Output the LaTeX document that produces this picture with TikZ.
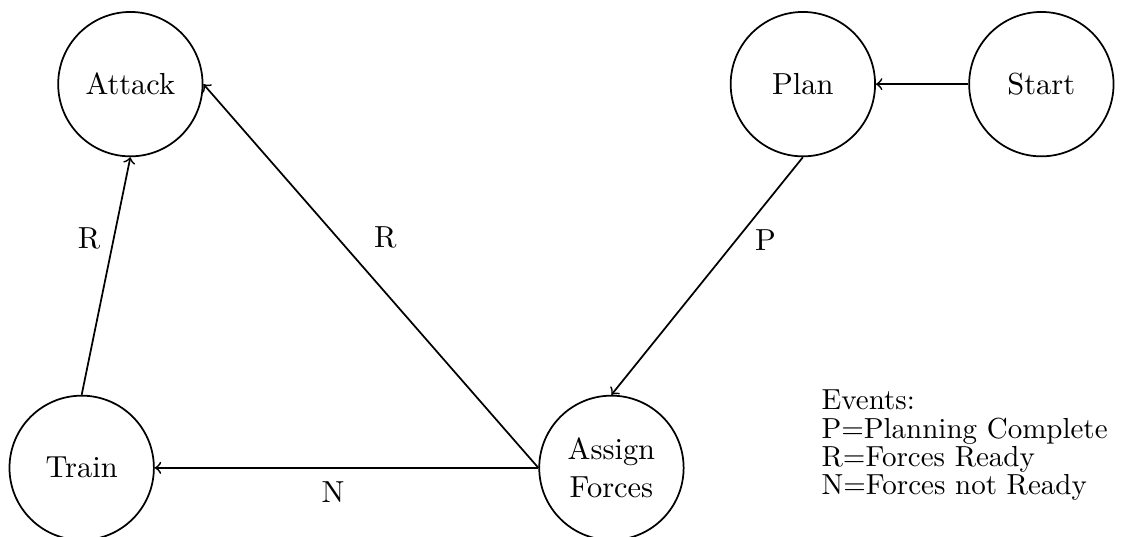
\documentclass[tikz,border=0pt]{standalone}
\usetikzlibrary{positioning}
\begin{document}
\begin{tikzpicture}[every node/.style={font=\fontsize{10.5pt}{13pt}\selectfont}, etat/.style={draw, circle, semithick, minimum size=1.75cm, align=center, inner sep=0pt}, fleche/.style={->, semithick}]
        \useasboundingbox (0,0) rectangle (13.67,6.50);

        % Etats
        \node[etat] (attack) at (1.58, 5.48) {Attack};
        \node[etat] (plan) at (9.73, 5.48) {Plan};
        \node[etat] (start) at (12.62, 5.48) {Start};
        \node[etat] (train) at (0.99, 0.83) {Train};
        \node[etat] (assign) at (7.41, 0.83) {Assign\\Forces};

        % Transitions
        \draw[fleche] (start.west) -- (plan.east);
        \draw[fleche] (plan.south) -- (assign.north) node[pos=0.35, right=3pt] {P};
        \draw[fleche] (assign.west) -- (attack.east) node[pos=0.6, right=9pt] {R};
        \draw[fleche] (assign.west) -- (train.east) node[pos=0.535, below=1pt] {N};
        \draw[fleche] (train.north) -- (attack.south) node[pos=0.66, left=1pt] {R};

        % Legende
        \node[align=left, anchor=north west, inner sep=0pt, font=\fontsize{10pt}{9.75pt}\selectfont] (events) at (9.95, 1.78) {Events:\\P=Planning Complete\\R=Forces Ready\\N=Forces not Ready};
    \end{tikzpicture}
\end{document}
